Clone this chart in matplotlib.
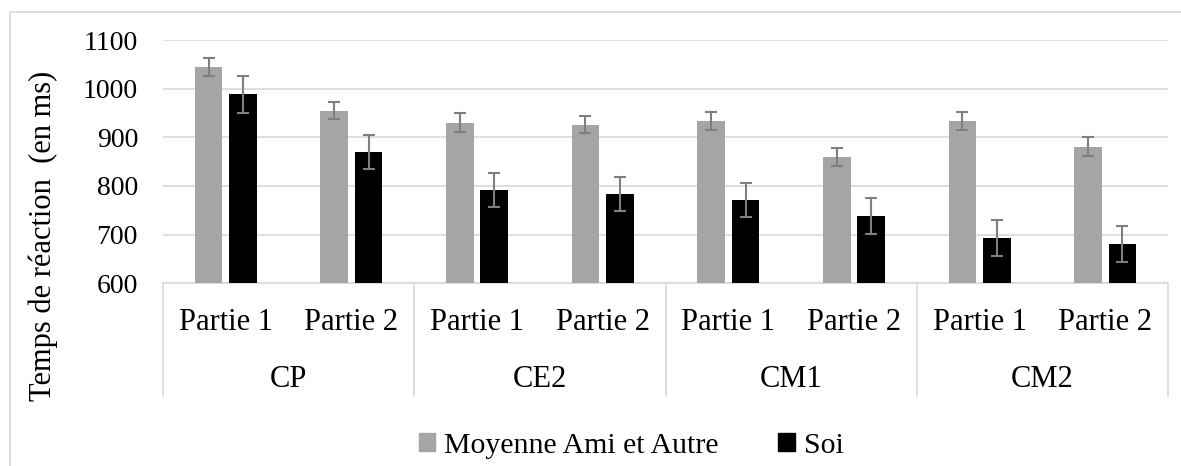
import numpy as np
import matplotlib
matplotlib.use("Agg")
import matplotlib.pyplot as plt
from matplotlib.patches import Rectangle, Patch

# Data
groups = ["CP", "CE2", "CM1", "CM2"]
parts = ["Partie 1", "Partie 2"]
series_names = ["Moyenne Ami et Autre", "Soi"]

ami_autre = [1045, 955, 930, 926, 934, 860, 934, 881]
ami_autre_err = [19, 18, 19, 18, 19, 19, 19, 19]
soi = [988, 869, 791, 783, 771, 738, 694, 680]
soi_err = [37, 35, 35, 35, 35, 37, 37, 37]

GRAY = "#A5A5A5"
BLACK = "#000000"
ERR = "#7F7F7F"
GRID = "#D9D9D9"

plt.rcParams["font.family"] = ["Liberation Serif", "DejaVu Serif"]

W, H = 1181, 466
fig = plt.figure(figsize=(W / 100, H / 100), dpi=100)
ax = fig.add_axes([163 / W, 1 - 283.3 / H, (1168 - 163) / W, (283.3 - 40) / H])

# outer chart border
fig.patches.append(Rectangle((10 / W, -0.01), 1.02, 1 - 12 / H + 0.01,
                             transform=fig.transFigure, fill=False,
                             edgecolor=GRID, linewidth=1.2))

n = len(ami_autre)
x = np.arange(n)
bw = 0.22
off = 0.137
ax.bar(x - off, ami_autre, bw, color=GRAY, zorder=3)
ax.bar(x + off, soi, bw, color=BLACK, zorder=3)
ekw = dict(fmt="none", ecolor=ERR, elinewidth=1.5, capsize=4, capthick=1.5, zorder=4)
ax.errorbar(x - off, ami_autre, yerr=ami_autre_err, **ekw)
ax.errorbar(x + off, soi, yerr=soi_err, **ekw)

ax.set_xlim(-0.5, n - 0.5)
ax.set_ylim(600, 1100)
ax.set_yticks(np.arange(600, 1101, 100))
ax.tick_params(axis="y", length=0, pad=18, labelsize=20)
ax.set_xticks([])
ax.grid(axis="y", color=GRID, linewidth=1.2, zorder=0)
for s in ["top", "right", "left"]:
    ax.spines[s].set_visible(False)
ax.spines["bottom"].set_color(GRID)
ax.spines["bottom"].set_linewidth(1.2)

# two-level category axis
sep_bottom = -(395.7 - 283.3) / (283.3 - 40)
trans = ax.get_xaxis_transform()
for i, g in enumerate(groups):
    for j, p in enumerate(parts):
        k = i * len(parts) + j
        ax.text(k, -0.162, p, transform=trans, ha="center", va="center",
                fontsize=22, clip_on=False)
    ax.text(i * 2 + 0.5, -0.397, g, transform=trans, ha="center", va="center",
            fontsize=22, clip_on=False)
for b in np.arange(-0.5, n, 2):
    ax.plot([b, b], [0, sep_bottom], transform=trans, color=GRID,
            linewidth=1.2, clip_on=False)

fig.text(43 / W, 1 - 236 / H, "Temps de réaction  (en ms)", rotation=90,
         ha="center", va="center", fontsize=22)

handles = [Patch(color=GRAY), Patch(color=BLACK)]
fig.legend(handles, series_names, ncol=2, loc="center",
           bbox_to_anchor=(631 / W, 1 - 446 / H), frameon=False, fontsize=21.5,
           handlelength=0.55, handleheight=0.55, handletextpad=0.3,
           columnspacing=2.0)

fig.savefig("out.png", dpi=100)
